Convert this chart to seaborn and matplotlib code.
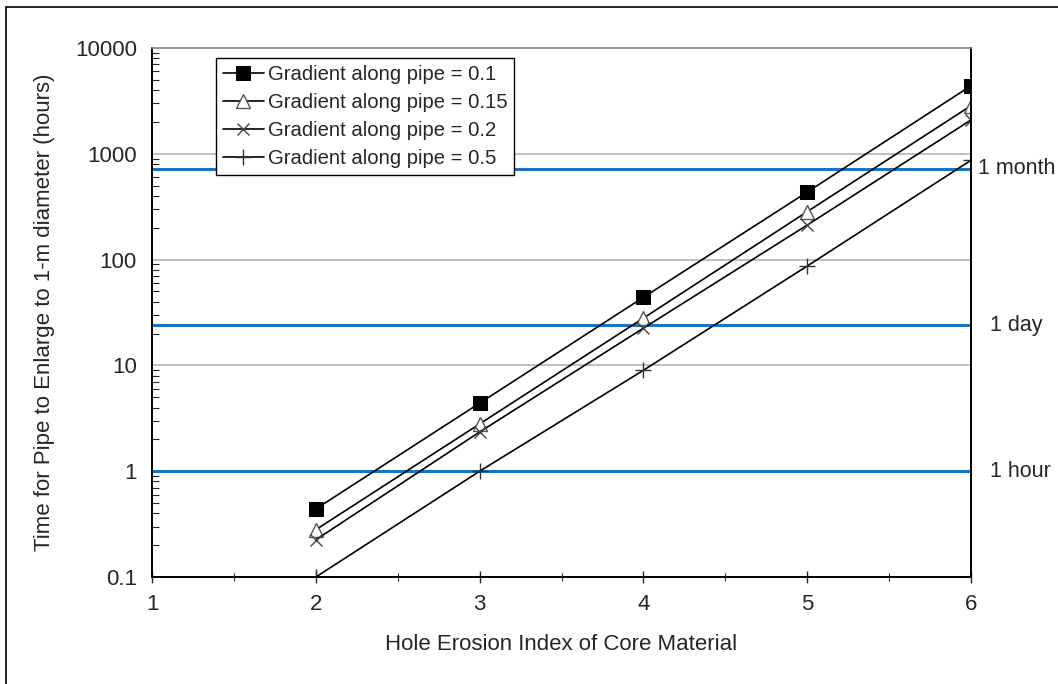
import numpy as np
import pandas as pd
import seaborn as sns
import matplotlib.pyplot as plt
from matplotlib.patches import Rectangle
from matplotlib.ticker import LogLocator, FixedLocator, NullFormatter
import matplotlib.transforms as mtransforms

# values
hei = [2, 3, 4, 5, 6]
t_g01 = [0.44, 4.4, 44, 435, 4400]
t_g015 = [0.28, 2.8, 28, 284, 2850]
t_g02 = [0.225, 2.35, 22.5, 212, 2090]
t_g05 = [0.1, 1.0, 9.0, 87, 870]
labels = ["Gradient along pipe = 0.1", "Gradient along pipe = 0.15",
          "Gradient along pipe = 0.2", "Gradient along pipe = 0.5"]

ref_hours = [1, 24, 720]
ref_names = ["1 hour", "1 day", "1 month"]
ref_xoff = [1.023, 1.023, 1.009]

sns.set_style("white")
plt.rcParams['font.family'] = ['Liberation Sans', 'DejaVu Sans']
plt.rcParams['font.size'] = 14

fig = plt.figure(figsize=(10.58, 6.84), dpi=100)
ax = fig.add_axes([0.1437, 0.1564, 0.9178 - 0.1437, 0.9298 - 0.1564])

styles = [
    dict(marker='s', ms=10, mfc='black', mec='black'),
    dict(marker='^', ms=9.5, mfc='white', mec='#555555', mew=1.0),
    dict(marker='x', ms=9, mec='#444444', mew=1.0),
    dict(marker='+', ms=12, mec='#333333', mew=1.0),
]
for ys, lab, st in zip([t_g01, t_g015, t_g02, t_g05], labels, styles):
    sns.lineplot(x=hei, y=ys, ax=ax, color='black', lw=1.2, label=lab, **st)

# reference durations
for h in ref_hours:
    ax.axhline(h, color='#1a74c4', lw=2.2, zorder=1.5)

ax.set_yscale('log')
ax.set_xlim(1, 6)
ax.set_ylim(0.1, 10000)
ax.set_yticks([0.1, 1, 10, 100, 1000, 10000])
ax.set_yticklabels(["0.1", "1", "10", "100", "1000", "10000"])
ax.yaxis.set_minor_locator(LogLocator(base=10, subs=np.arange(2, 10)))
ax.yaxis.set_minor_formatter(NullFormatter())
ax.set_xticks([1, 2, 3, 4, 5, 6])
ax.xaxis.set_minor_locator(FixedLocator(np.arange(1.5, 6, 1.0)))

ax.grid(axis='y', which='major', color='#b4b4b4', lw=1.2)
ax.grid(axis='x', visible=False)
ax.set_axisbelow(True)

ax.tick_params(axis='y', which='major', direction='inout', length=10, width=1, labelsize=16, pad=6)
ax.tick_params(axis='y', which='minor', direction='in', length=5, width=0.8, left=True)
ax.tick_params(axis='x', which='major', direction='inout', length=8, width=1, labelsize=16, pad=8, bottom=True)
ax.tick_params(axis='x', which='minor', direction='inout', length=6, width=0.8, bottom=True)

for side in ['left', 'bottom', 'right']:
    ax.spines[side].set_color('black')
    ax.spines[side].set_linewidth(1.4)
ax.spines['top'].set_color('#888888')
ax.spines['top'].set_linewidth(1.2)

ax.set_xlabel("Hole Erosion Index of Core Material", fontsize=16, labelpad=14)
ax.set_ylabel("Time for Pipe to Enlarge to 1-m diameter (hours)", fontsize=16, labelpad=14)

trans = mtransforms.blended_transform_factory(ax.transAxes, ax.transData)
for h, name, xo in zip(ref_hours, ref_names, ref_xoff):
    ax.text(xo, h, name, transform=trans, ha='left', va='center', fontsize=15.5, clip_on=False)

leg = ax.legend(loc='upper left', bbox_to_anchor=(0.078, 0.982), frameon=True, fancybox=False,
                edgecolor='black', fontsize=14.6, handlelength=2.0, handletextpad=0.2,
                borderpad=0.35, labelspacing=0.45, borderaxespad=0, numpoints=1)
leg.get_frame().set_linewidth(1.0)
leg.get_frame().set_alpha(1)

fig.add_artist(Rectangle((6 / 1058, -0.1), 2, 1.1 - 7 / 684, fill=False, ec='black', lw=1.2,
                         transform=fig.transFigure))

fig.savefig("out.png", dpi=100)
